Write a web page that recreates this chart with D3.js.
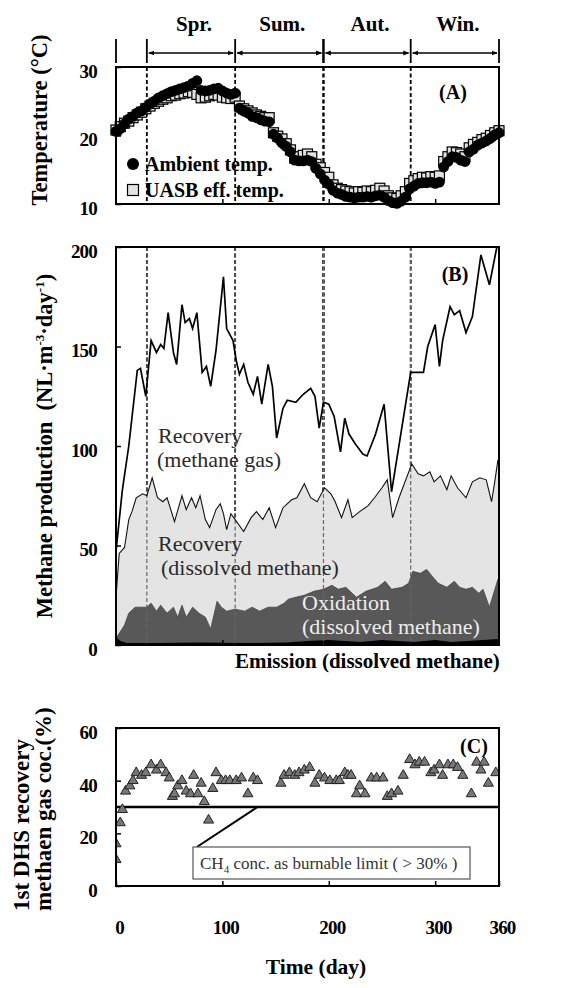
<!DOCTYPE html>
<html>
<head>
<meta charset="utf-8">
<script src="https://cdn.jsdelivr.net/npm/d3@7"></script>
<style>
  body { margin: 0; background: #fff; }
  svg { display: block; }
</style>
</head>
<body>
<svg id="chart" width="573" height="988"></svg>
<script>
// seasons (day boundaries)
const seasons = ["Spr.", "Sum.", "Aut.", "Win."];
const seasonBounds = [29, 112, 195, 277, 360];

// (A) temperature, every 4 days
const tempDays = [0,4,8,12,16,20,24,28,32,36,40,44,48,52,56,60,64,68,72,76,80,84,88,92,96,100,104,108,112,116,120,124,128,132,136,140,144,148,152,156,160,164,168,172,176,180,184,188,192,196,200,204,208,212,216,220,224,228,232,236,240,244,248,252,256,260,264,268,272,276,280,284,288,292,296,300,304,308,312,316,320,324,328,332,336,340,344,348,352,356,360];
const ambientTemp = [20.6,21.0,21.7,22.4,22.8,23.3,23.6,24.1,24.6,25.0,25.5,25.8,26.1,26.4,26.6,26.8,27.0,27.2,27.6,28.0,26.6,26.5,26.6,26.8,26.9,26.5,26.2,26.0,26.2,24.0,23.6,23.3,22.8,22.6,22.3,22.1,22.0,20.2,19.6,18.9,18.4,17.6,16.4,16.3,16.3,16.4,16.2,15.2,14.4,13.5,12.9,12.0,11.6,11.4,11.1,11.0,10.9,11.0,11.0,11.1,11.0,11.2,11.3,11.0,10.5,10.2,10.1,10.4,11.0,12.2,12.6,13.0,13.1,13.1,13.2,13.0,13.2,15.4,16.2,16.9,16.8,16.4,16.2,17.6,18.0,18.6,18.9,19.2,19.6,20.1,20.4];
const uasbTemp = [20.8,21.3,21.8,22.1,22.6,23.0,23.4,23.9,24.3,24.7,25.0,25.3,25.5,25.8,25.9,26.1,26.2,26.4,26.3,26.0,25.5,25.6,25.8,26.0,25.9,25.6,25.5,25.4,25.6,24.3,23.9,23.6,23.3,23.0,22.8,22.6,22.6,20.4,19.9,19.5,18.8,17.9,16.7,16.9,17.1,17.3,16.9,15.8,15.3,14.6,13.9,12.8,12.3,12.1,11.9,11.8,11.6,11.8,11.7,11.9,11.8,12.0,12.3,11.9,11.2,10.9,10.8,11.2,11.8,13.0,13.4,13.7,13.9,13.8,14.0,13.9,14.1,16.2,16.9,17.6,17.5,17.3,16.9,18.2,18.7,19.0,19.4,19.6,20.0,20.4,20.7];

// (B) methane production, cumulative levels (NL/m3/day)
const totalDays = [0,6,12,20,23,28,33,38,42,45,49,54,57,62,65,69,72,76,81,85,89,94,101,104,110,113,116,120,124,129,133,137,143,147,151,157,161,169,176,183,187,191,195,200,205,211,215,219,225,232,236,244,252,259,277,289,293,300,304,307,314,318,323,329,335,343,351,358];
const totalProd = [47,78,100,138,139,125,153,147,151,149,167,147,141,171,162,164,159,167,137,140,130,148,185,159,153,143,136,141,132,126,135,121,141,130,104,119,123,122,126,129,125,109,122,121,115,97,114,106,101,96,95,106,121,77,137,137,150,161,140,153,170,166,168,157,165,196,181,200];
const dissolvedDays = [0,3,8,12,15,19,25,29,34,39,44,48,55,62,66,71,75,79,84,88,94,98,101,104,108,112,120,127,132,138,144,150,157,165,170,177,183,189,196,202,206,212,218,222,229,237,243,250,255,260,266,278,284,289,295,299,305,311,315,321,329,335,342,348,353,356,359];
const dissolvedTop = [24,46,49,63,67,74,76,75,84,74,72,74,62,75,68,74,69,75,63,59,68,71,66,58,66,63,57,64,67,63,69,59,69,73,74,81,74,72,79,76,72,64,73,64,67,70,74,79,83,64,74,91,86,85,87,82,85,78,85,79,74,82,84,83,72,82,93];
const oxidationDays = [0,2,8,12,18,24,29,33,38,42,48,54,58,62,66,72,78,84,89,95,99,104,112,121,128,135,143,151,158,162,169,177,186,195,203,209,216,226,235,246,253,259,269,275,279,286,292,298,303,311,318,323,329,335,341,345,351,359];
const oxidationTop = [3,5,10,16,19,19,19,21,17,20,16,19,14,20,14,19,16,14,8,22,19,17,18,17,19,17,19,19,21,23,24,25,27,28,30,28,29,24,27,29,32,28,29,31,37,36,38,34,31,29,32,29,28,29,26,28,19,33];
const emissionDays = [0,4,10,40,80,120,160,180,200,215,230,250,265,280,300,315,330,345,359];
const emissionTop = [4,2,1,1,1.2,1,1.2,2,2.5,2,1.5,2.5,2,1.5,2.5,1.5,2,2.5,3];

// (C) methane content of recovered gas (%)
const concDays = [0,0,4,6,9,13,16,19,24,28,33,38,42,47,50,53,55,58,62,66,70,73,77,80,83,87,91,94,99,103,107,113,118,124,129,133,155,158,163,168,172,177,182,187,191,196,201,207,210,215,218,221,226,229,234,240,245,251,255,259,265,270,276,281,285,290,296,299,304,307,312,317,321,326,334,339,343,346,350,357];
const gasConc = [10,16,24,29,36,38,40,43,42,43,46,44,46,43,41,34,35,38,40,36,35,42,35,39,32,25,37,43,40,40,40,40,41,35,41,40,39,42,43,42,43,44,45,39,42,41,40,40,40,43,42,42,35,38,35,41,41,41,34,35,36,42,48,46,47,47,43,44,46,42,46,46,45,42,35,47,44,47,39,43];
const burnableLimit = 30;

const yTicksA = [10, 20, 30];
const yTicksB = [0, 50, 100, 150, 200];
const yTicksC = [0, 20, 40, 60];
const xTicks = [0, 100, 200, 300, 360];

const serif = '"Liberation Serif", "Times New Roman", Tinos, serif';
const svg = d3.select("#chart").style("font-family", serif);
const x = d3.scaleLinear().domain([0, 360]).range([116, 499]);
const yA = d3.scaleLinear().domain([10, 30]).range([204, 67]);
const yB = d3.scaleLinear().domain([0, 200]).range([645, 247]);
const yC = d3.scaleLinear().domain([0, 60]).range([886, 728]);

// every label goes through here so the serif face is set inline
function label(txt, tx, ty, size, bold, opts = {}) {
  const t = svg.append("text")
    .attr("transform", opts.rotate ? `translate(${tx},${ty}) rotate(-90)` : null)
    .attr("x", opts.rotate ? 0 : tx).attr("y", opts.rotate ? 0 : ty)
    .attr("text-anchor", opts.anchor || "start")
    .attr("fill", opts.fill || "#000")
    .style("font-family", serif).style("font-size", size + "px")
    .style("font-weight", bold ? "bold" : "normal").style("white-space", "pre");
  if (txt) t.text(txt);
  return t;
}

const defs = svg.append("defs");
defs.append("marker").attr("id", "arr").attr("viewBox", "0 0 10 10")
  .attr("refX", 9).attr("refY", 5).attr("markerWidth", 6).attr("markerHeight", 6)
  .attr("orient", "auto-start-reverse").attr("markerUnits", "userSpaceOnUse")
  .append("path").attr("d", "M0,1L10,5L0,9Z").attr("fill", "#000");
[["clipA", yA], ["clipB", yB], ["clipC", yC]].forEach(([id, s]) => {
  defs.append("clipPath").attr("id", id).append("rect")
    .attr("x", x(0)).attr("y", s.range()[1])
    .attr("width", x(360) - x(0)).attr("height", s.range()[0] - s.range()[1]);
});

// ---- season header
const hdr = svg.append("g");
[0, ...seasonBounds].forEach(d => {
  hdr.append("line").attr("x1", x(d)).attr("x2", x(d)).attr("y1", 39).attr("y2", 63)
    .attr("stroke", "#000").attr("stroke-width", d === 195 ? 2.5 : 1.8);
});
seasons.forEach((s, i) => {
  hdr.append("line")
    .attr("x1", x(seasonBounds[i]) + 2).attr("x2", x(seasonBounds[i + 1]) - 2)
    .attr("y1", 53).attr("y2", 53).attr("stroke", "#000").attr("stroke-width", 1.3)
    .attr("marker-start", "url(#arr)").attr("marker-end", "url(#arr)");
  label(s, (x(seasonBounds[i]) + x(seasonBounds[i + 1])) / 2 + 3, 31, 21, true, { anchor: "middle" });
});

function styleTickText(sel) {
  sel.style("font-family", serif).style("font-weight", "bold").style("font-size", "19px")
    .attr("letter-spacing", -0.8).attr("fill", "#000");
}
function yAxis(scale, ticks, padRight) {
  const g = svg.append("g").attr("transform", `translate(${x(0)},0)`)
    .call(d3.axisLeft(scale).tickValues(ticks).tickSize(-5).tickPadding(padRight));
  g.select(".domain").remove();
  g.selectAll("line").attr("stroke", "#000").attr("stroke-width", 1.5);
  g.selectAll("text").call(styleTickText).attr("dy", "0.55em");
}
function xInnerTicks(yPos) {
  const g = svg.append("g").attr("transform", `translate(0,${yPos})`)
    .call(d3.axisBottom(x).tickValues([100, 200, 300]).tickSize(-5).tickFormat(""));
  g.select(".domain").remove();
  g.selectAll("line").attr("stroke", "#000").attr("stroke-width", 1.5);
}
function box(scale) {
  svg.append("rect").attr("x", x(0)).attr("y", scale.range()[1])
    .attr("width", x(360) - x(0)).attr("height", scale.range()[0] - scale.range()[1])
    .attr("fill", "none").attr("stroke", "#000").attr("stroke-width", 2);
}
function seasonLines(scale, clip) {
  svg.append("g").attr("clip-path", `url(#${clip})`).selectAll("line")
    .data(seasonBounds.slice(0, 4)).join("line")
    .attr("x1", d => x(d)).attr("x2", d => x(d))
    .attr("y1", scale.range()[1]).attr("y2", scale.range()[0])
    .attr("stroke", "#000").attr("stroke-width", d => d === 195 ? 2.4 : 1.8)
    .attr("stroke-dasharray", "4,2.5");
}

// ---- panel A
seasonLines(yA, "clipA");
const gA = svg.append("g");
gA.selectAll("rect.uasb").data(tempDays).join("rect").attr("class", "uasb")
  .attr("x", (d) => x(d) - 5).attr("y", (d, i) => yA(uasbTemp[i]) - 5)
  .attr("width", 10).attr("height", 10)
  .attr("fill", "#e2e2e2").attr("stroke", "#000").attr("stroke-width", 1.2);
gA.selectAll("circle").data(tempDays).join("circle")
  .attr("cx", d => x(d)).attr("cy", (d, i) => yA(ambientTemp[i])).attr("r", 5.4)
  .attr("fill", "#000");
box(yA);
yAxis(yA, yTicksA, 19);
xInnerTicks(yA(10));
label("(A)", 453, 99, 20, true, { anchor: "middle" });
svg.append("circle").attr("cx", 133).attr("cy", 164).attr("r", 6).attr("fill", "#000");
label("Ambient temp.", 145, 171, 20, true);
svg.append("rect").attr("x", 127.5).attr("y", 184.5).attr("width", 11).attr("height", 11)
  .attr("fill", "#e2e2e2").attr("stroke", "#000").attr("stroke-width", 1.2);
label("UASB eff. temp.", 145, 197, 20, true);
label("Temperature (°C)", 47, 120, 22.5, true, { rotate: true, anchor: "middle" });

// ---- panel B
seasonLines(yB, "clipB");
const gB = svg.append("g").attr("clip-path", "url(#clipB)");
const pairs = (days, vals) => days.map((d, i) => [d, vals[i]]);
const areaB = d3.area().x(d => x(d[0])).y0(yB(0)).y1(d => yB(d[1]));
const lineB = d3.line().x(d => x(d[0])).y(d => yB(d[1]));
gB.append("path").datum(pairs(dissolvedDays, dissolvedTop)).attr("d", areaB).attr("fill", "#e4e4e4");
gB.append("path").datum(pairs(oxidationDays, oxidationTop)).attr("d", areaB)
  .attr("fill", "#585858").attr("stroke", "#444").attr("stroke-width", 0.8);
gB.append("path").datum(pairs(emissionDays, emissionTop)).attr("d", areaB).attr("fill", "#000");
gB.selectAll("line.thin").data(seasonBounds.slice(0, 4)).join("line").attr("class", "thin")
  .attr("x1", d => x(d)).attr("x2", d => x(d)).attr("y1", yB(200)).attr("y2", yB(0))
  .attr("stroke", "#666").attr("stroke-width", 1.2).attr("stroke-dasharray", "4,2.5");
gB.append("path").datum(pairs(dissolvedDays, dissolvedTop)).attr("d", lineB)
  .attr("fill", "none").attr("stroke", "#111").attr("stroke-width", 1.1);
gB.append("path").datum(pairs(totalDays, totalProd)).attr("d", lineB)
  .attr("fill", "none").attr("stroke", "#000").attr("stroke-width", 1.7);
box(yB);
yAxis(yB, yTicksB, 19);
xInnerTicks(yB(0));
label("(B)", 455, 281, 20, true, { anchor: "middle" });
const annB = [
  ["Recovery", 158, 443, "#2a2a2a"], ["(methane gas)", 157, 467, "#2a2a2a"],
  ["Recovery", 158, 551, "#2a2a2a"], ["(dissolved methane)", 161, 575, "#2a2a2a"],
  ["Oxidation", 302, 610, "#eeeeee"], ["(dissolved methane)", 302, 634, "#eeeeee"]
];
annB.forEach(([t, tx, ty, c]) => label(t, tx, ty, 22, false, { fill: c }));
label("Emission (dissolved methane)", 235, 668, 21, true);
const yLabB = label(null, 52, 446, 22.5, true, { rotate: true, anchor: "middle" });
yLabB.append("tspan").text("Methane production  (NL·m");
yLabB.append("tspan").attr("dy", -8).style("font-size", "13px").text("-3");
yLabB.append("tspan").attr("dy", 8).text("·day");
yLabB.append("tspan").attr("dy", -8).style("font-size", "13px").text("-1");
yLabB.append("tspan").attr("dy", 8).text(")");

// ---- panel C
const gC = svg.append("g").attr("clip-path", "url(#clipC)");
gC.append("line").attr("x1", x(0)).attr("x2", x(360))
  .attr("y1", yC(burnableLimit)).attr("y2", yC(burnableLimit))
  .attr("stroke", "#000").attr("stroke-width", 2.6);
gC.selectAll("path.tri").data(concDays).join("path").attr("class", "tri")
  .attr("d", d3.symbol(d3.symbolTriangle, 44))
  .attr("transform", (d, i) => `translate(${x(d)},${yC(gasConc[i])})`)
  .attr("fill", "#777").attr("stroke", "#222").attr("stroke-width", 1);
box(yC);
yAxis(yC, yTicksC, 19);
const gx = svg.append("g").attr("transform", `translate(0,${yC(0)})`)
  .call(d3.axisBottom(x).tickValues(xTicks).tickSize(-5).tickPadding(35));
gx.select(".domain").remove();
gx.selectAll("line").attr("stroke", "#000").attr("stroke-width", 1.5);
gx.selectAll("text").call(styleTickText).attr("dx", 3);
label("(C)", 474, 753, 20, true, { anchor: "middle" });
// burnable-limit callout
svg.append("line").attr("x1", x(76)).attr("y1", 847).attr("x2", x(133)).attr("y2", yC(burnableLimit))
  .attr("stroke", "#000").attr("stroke-width", 2);
svg.append("rect").attr("x", 193).attr("y", 847).attr("width", 277).attr("height", 32)
  .attr("fill", "#fff").attr("stroke", "#555").attr("stroke-width", 1.2);
const callout = label(null, 200, 869, 17, false, { fill: "#333" });
callout.append("tspan").text("CH");
callout.append("tspan").attr("dy", 4).style("font-size", "11px").text("4");
callout.append("tspan").attr("dy", -4).text(" conc. as burnable limit ( > 30% )");
label("1st DHS recovery", 29, 911, 23, true, { rotate: true });
label("methaen gas coc.(%)", 51, 911, 23, true, { rotate: true });
label("Time (day)", 316, 974, 21.5, true, { anchor: "middle" });
</script>
</body>
</html>
